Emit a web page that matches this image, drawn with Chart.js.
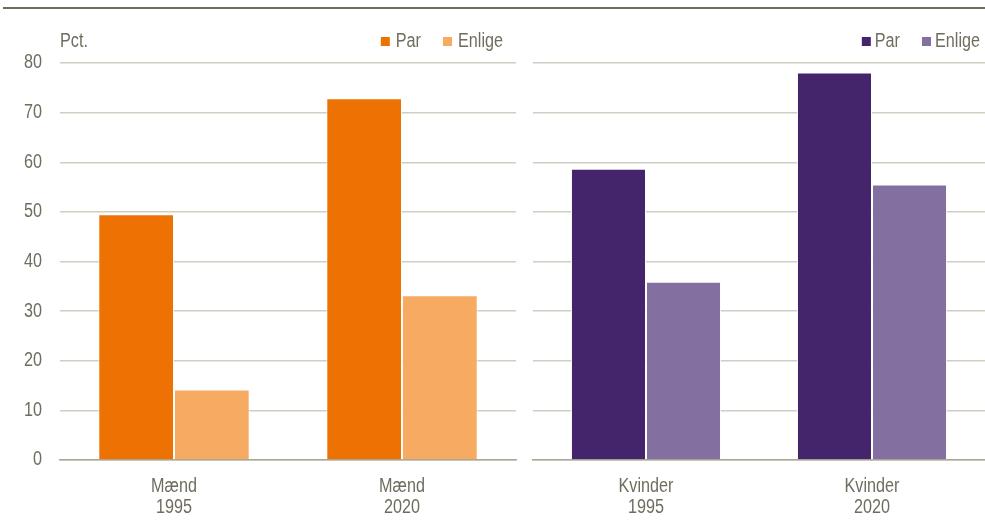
<!DOCTYPE html>
<html>
<head>
<meta charset="utf-8">
<script src="https://cdn.jsdelivr.net/npm/chart.js@4/dist/chart.umd.min.js"></script>
<style>
  html, body { margin: 0; padding: 0; background: #ffffff; }
  body { width: 985px; height: 524px; position: relative; overflow: hidden; }
  #rule { position: absolute; left: 3px; top: 7px; width: 982px; height: 2px; background: #706c5c; }
  #wl { position: absolute; left: 0; top: 0; width: 520px; height: 524px; }
  #wr { position: absolute; left: 520px; top: 0; width: 465px; height: 524px; }
</style>
</head>
<body>
<div id="rule"></div>
<div id="wl"><canvas id="cl"></canvas></div>
<div id="wr"><canvas id="cr"></canvas></div>
<script>
const seriesNames = ['Par', 'Enlige'];
const categoriesMaend = [['Mænd', '1995'], ['Mænd', '2020']];
const categoriesKvinder = [['Kvinder', '1995'], ['Kvinder', '2020']];
const maendPar = [49.5, 72.9];
const maendEnlige = [14.2, 33.2];
const kvinderPar = [58.7, 78.1];
const kvinderEnlige = [35.9, 55.5];
const yTickValues = [0, 10, 20, 30, 40, 50, 60, 70, 80];
const unitLabel = 'Pct.';

const FONT = "'Liberation Sans', Arial, sans-serif";
const FSIZE = 19.5;
const SX = 0.83; // horizontal condensing of text (reference uses a narrow face)
const TEXT = '#6f6d5f';
const GRID = '#cfcec3';
const AXIS = '#a9a792';

function condense(canvas) {
  const ctx = canvas.getContext('2d');
  const orig = CanvasRenderingContext2D.prototype.fillText;
  ctx.fillText = function (text, x, y, maxW) {
    this.save();
    this.translate(x, y);
    this.scale(SX, 1);
    if (maxW !== undefined) orig.call(this, text, 0, 0, maxW / SX);
    else orig.call(this, text, 0, 0);
    this.restore();
  };
}

const legendPlugin = {
  id: 'customLegend',
  afterDraw(chart, args, opts) {
    const ctx = chart.ctx;
    ctx.save();
    ctx.font = FSIZE + 'px ' + FONT;
    ctx.textBaseline = 'middle';
    ctx.fillStyle = TEXT;
    const y = 42;
    if (opts.unit) {
      ctx.textAlign = 'left';
      ctx.fillText(opts.unit, chart.chartArea.left, y);
    }
    const ds = chart.data.datasets;
    const box = 9, gap = opts.gap, itemGap = 22;
    const widths = ds.map(d => box + gap + ctx.measureText(d.label).width * SX);
    const total = widths.reduce((a, b) => a + b, 0) + itemGap * (ds.length - 1);
    let x = opts.right - total;
    ctx.textAlign = 'left';
    ds.forEach((d, i) => {
      ctx.fillStyle = d.backgroundColor;
      ctx.fillRect(x, y - 5, box, box);
      ctx.fillStyle = TEXT;
      ctx.fillText(d.label, x + box + gap, y);
      x += widths[i] + itemGap;
    });
    ctx.restore();
  }
};

function makeChart(id, cats, par, enl, cPar, cEnl, showY, pad, legendRight, unit, gap) {
  const canvas = document.getElementById(id);
  condense(canvas);
  return new Chart(canvas, {
    type: 'bar',
    data: {
      labels: cats,
      datasets: [
        { label: seriesNames[0], data: par, backgroundColor: cPar, borderColor: 'rgba(255,255,255,0.85)', borderWidth: 1, borderSkipped: 'bottom' },
        { label: seriesNames[1], data: enl, backgroundColor: cEnl, borderColor: 'rgba(255,255,255,0.85)', borderWidth: 1, borderSkipped: 'bottom' }
      ]
    },
    options: {
      responsive: true,
      maintainAspectRatio: false,
      animation: false,
      devicePixelRatio: 1,
      layout: { padding: pad },
      categoryPercentage: 0.664,
      barPercentage: 1.0,
      plugins: {
        legend: { display: false },
        tooltip: { enabled: false },
        customLegend: { right: legendRight, unit: unit, gap: gap }
      },
      scales: {
        x: {
          grid: { display: false, drawTicks: false },
          border: { display: true, color: AXIS, width: 1.5 },
          ticks: { color: TEXT, font: { family: FONT, size: FSIZE, lineHeight: 1.03 }, padding: 17, maxRotation: 0, autoSkip: false },
          afterFit(s) { s.height = 64; }
        },
        y: {
          min: 0, max: 80,
          afterBuildTicks(s) { s.ticks = yTickValues.map(v => ({ value: v })); },
          grid: { display: true, color: GRID, lineWidth: 1.5, drawTicks: false },
          border: { display: false },
          ticks: { display: showY, color: TEXT, font: { family: FONT, size: FSIZE }, padding: 18 },
          afterFit(s) { s.width = showY ? 60 : 0; }
        }
      }
    },
    plugins: [legendPlugin]
  });
}

makeChart('cl', categoriesMaend, maendPar, maendEnlige, '#ee7203', '#f6aa62', true,
  { top: 63, left: 0, right: 4, bottom: 0 }, 503, unitLabel, 6);
makeChart('cr', categoriesKvinder, kvinderPar, kvinderEnlige, '#44246a', '#8470a0', false,
  { top: 63, left: 13, right: 0, bottom: 0 }, 460, null, 4);
</script>
</body>
</html>
